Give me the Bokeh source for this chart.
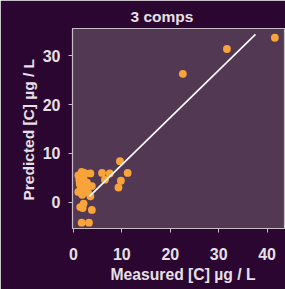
from bokeh.plotting import figure
from bokeh.embed import file_html
from bokeh.resources import INLINE
from bokeh.models import Range1d, FixedTicker, Title

title_text = "3 comps"
x_label = "Measured [C] µg / L"
y_label = "Predicted [C] µg / L"

measured = [41.6, 31.7, 22.6, 9.6, 11.2, 9.8, 9.3, 7.5, 5.9, 6.5,
            1.0, 1.7, 2.4, 3.5, 1.2, 2.1, 1.4, 2.8, 3.8, 1.0, 2.4, 1.6, 3.5,
            1.4, 1.9, 2.1, 3.8, 1.7, 3.2, 2.0, 1.3, 2.6, 3.0, 1.8, 2.2]
predicted = [33.7, 31.4, 26.3, 8.4, 6.0, 4.4, 3.0, 5.9, 6.0, 4.6,
             5.5, 6.2, 5.9, 5.9, 4.5, 4.8, 3.5, 4.0, 3.3, 2.1, 2.4, 3.0, 1.2,
             -1.0, -1.2, -0.3, -1.6, -4.2, -4.2, 5.2, 3.8, 3.2, 2.0, 1.5, 6.0]

fit_x = [3.3, 37.6]
fit_y = [1.2, 34.4]

x_ticks = [0, 10, 20, 30, 40]
y_ticks = [0, 10, 20, 30]

outer_bg = "#2a0630"
plot_bg = "#533853"
fg = "#e6e0e6"

p = figure(width=285, height=289, output_backend="svg", toolbar_location=None,
           x_range=Range1d(-0.2, 43.8), y_range=Range1d(-5.4, 35.6),
           min_border_left=72, min_border_right=0, min_border_top=28, min_border_bottom=61)
p.background_fill_color = plot_bg
p.border_fill_color = outer_bg
p.outline_line_color = "#c8bcc8"
p.outline_line_width = 1.2

p.title.text = title_text
p.title.text_color = fg
p.title.text_font = "Liberation Sans"
p.title.text_font_size = "15.5px"
p.title.text_font_style = "bold"
p.title.align = "left"
p.title.offset = 58
p.title.standoff = 7

for ax in (p.xaxis, p.yaxis):
    ax.axis_line_color = None
    ax.major_tick_line_color = "#c8bcc8"
    ax.major_tick_out = 4
    ax.major_tick_in = 0
    ax.minor_tick_line_color = None
    ax.major_label_text_color = fg
    ax.major_label_text_font = "Liberation Sans"
    ax.major_label_text_font_size = "16px"
    ax.major_label_text_font_style = "bold"

p.xaxis.ticker = FixedTicker(ticks=x_ticks)
p.yaxis.ticker = FixedTicker(ticks=y_ticks)
p.xaxis.major_label_standoff = 15
p.yaxis.major_label_standoff = 8
p.grid.visible = False

p.scatter(measured, predicted, size=7.8, color="#f9a43a", line_color=None)
p.line(fit_x, fit_y, line_color="white", line_width=1.6)

xt = Title(text=x_label, align="left", offset=38, standoff=3, text_color=fg,
           text_font="Liberation Sans", text_font_size="15.7px", text_font_style="bold")
yt = Title(text=y_label, align="left", offset=28, standoff=6, text_color=fg,
           text_font="Liberation Sans", text_font_size="15.5px", text_font_style="bold")
p.add_layout(xt, "below")
p.add_layout(yt, "left")

html = file_html(p, INLINE)
html = html.replace("<body>", '<body style="margin:0;background:%s">' % outer_bg, 1)
open("out.html", "w").write(html)
